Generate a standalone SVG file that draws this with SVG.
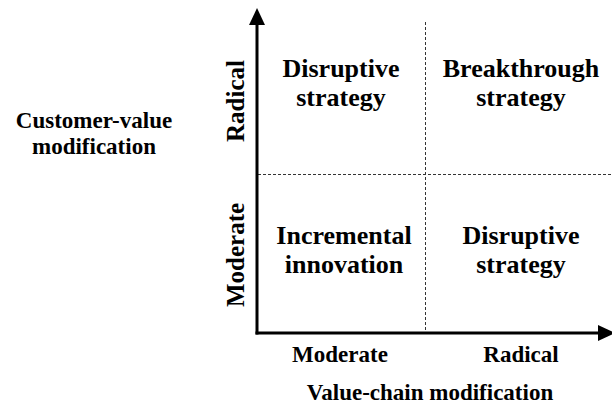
<svg xmlns="http://www.w3.org/2000/svg" width="612" height="409" viewBox="0 0 612 409">
<defs>
<style>
text{font-family:"Liberation Serif","Times New Roman",serif;font-weight:bold;fill:#000;text-anchor:middle}
.q{font-size:26px}
.a{font-size:23px}
.r{font-size:25px}
.axis{stroke:#000;stroke-width:3;fill:none}
.dash{stroke:#333;stroke-width:1;stroke-dasharray:3 2;fill:none}
</style>
</defs>
<rect width="612" height="409" fill="#fff"/>
<g id="connectors">
<line class="dash" x1="425.5" y1="22" x2="425.5" y2="332"/>
<line class="dash" x1="258" y1="174.5" x2="612" y2="174.5"/>
<line class="axis" x1="257" y1="22" x2="257" y2="334.5"/>
<polygon points="257,8 249,25 265,25" fill="#000"/>
<line class="axis" x1="255.5" y1="333" x2="600" y2="333"/>
<polygon points="615,333 598,325 598,341" fill="#000"/>
</g>
<g id="q-top-left"><text class="q" x="341" y="77">Disruptive</text><text class="q" x="341" y="106">strategy</text></g>
<g id="q-top-right"><text class="q" x="521" y="77">Breakthrough</text><text class="q" x="521" y="106">strategy</text></g>
<g id="q-bottom-left"><text class="q" x="344" y="244">Incremental</text><text class="q" x="344" y="273">innovation</text></g>
<g id="q-bottom-right"><text class="q" x="521" y="244">Disruptive</text><text class="q" x="521" y="273">strategy</text></g>
<g id="y-title"><text class="a" x="94" y="128">Customer-value</text><text class="a" x="94" y="154">modification</text></g>
<g id="y-radical"><text class="r" transform="translate(244,101) rotate(-90)">Radical</text></g>
<g id="y-moderate"><text class="r" transform="translate(244,255) rotate(-90)">Moderate</text></g>
<g id="x-moderate"><text class="a" x="340" y="362">Moderate</text></g>
<g id="x-radical"><text class="a" x="521" y="362">Radical</text></g>
<g id="x-title"><text class="a" x="430" y="400">Value-chain modification</text></g>
</svg>
